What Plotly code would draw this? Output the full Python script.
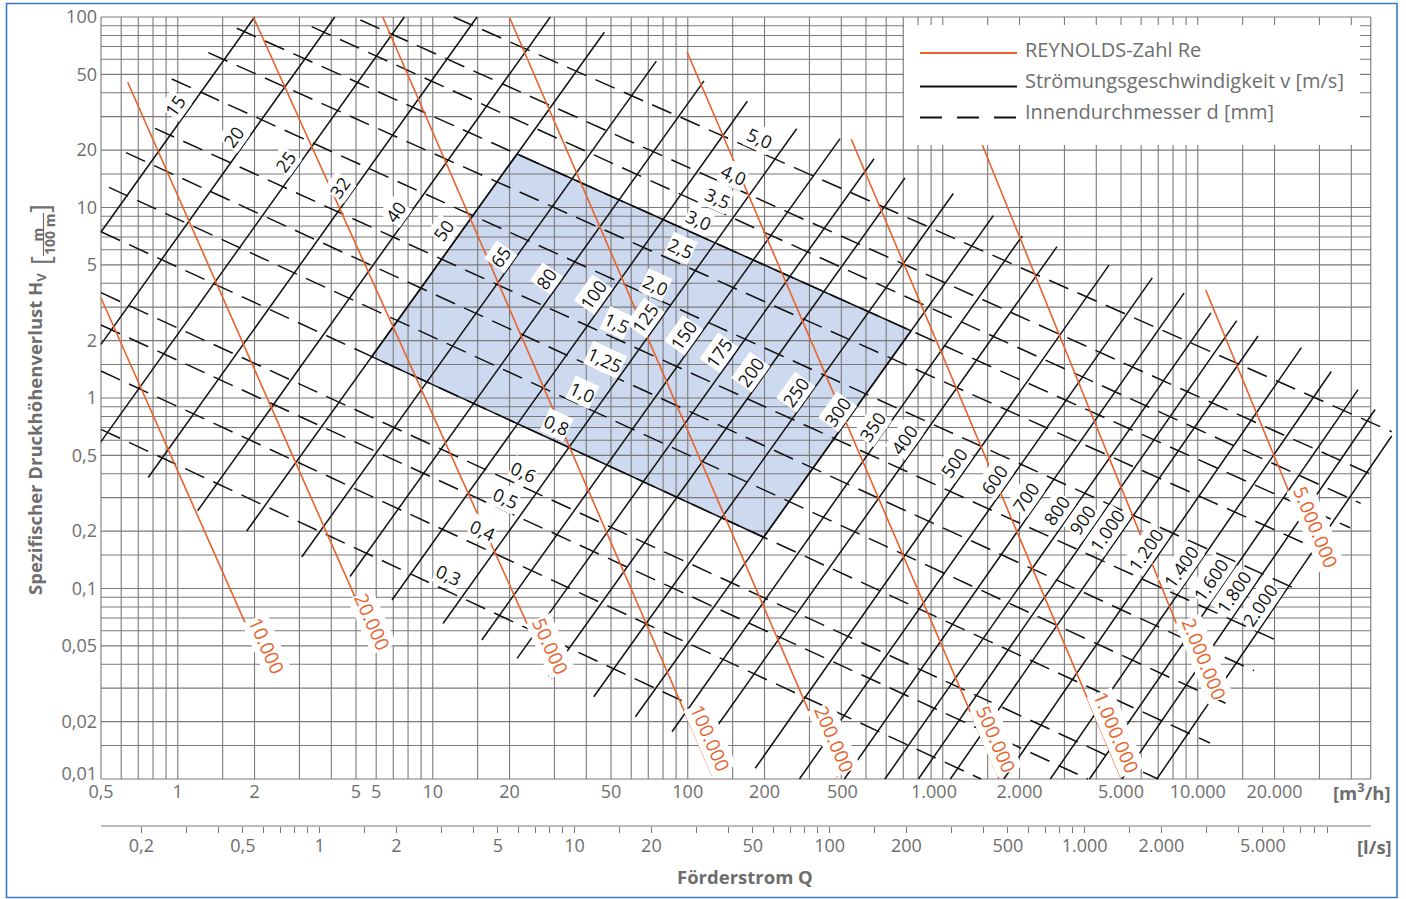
import numpy as np
import plotly.graph_objects as go

FONT = "Open Sans"
ORANGE = "#e8622c"
BLACK = "#111111"
GRID = "#7a7a7a"
TEXT = "#6e6e6e"
FILL = "#cdd9ee"
FRAME = "#3b79c3"

# ------------------------------------------------------------------ data
# Innendurchmesser d [mm]  (solid lines) - end points: Q [m3/h], Hv [m/100 m]
d_labels = ["15", "20", "25", "32", "40", "50", "65", "80", "100", "125", "150", "175", "200", "250",
            "300", "350", "400", "500", "600", "700", "800", "900", "1.000", "1.200", "1.400", "1.600",
            "1.800", "2.000"]
d_q_lo = [0.5, 0.5, 0.5, 0.766, 1.197, 1.864, 3.063, 4.737, 6.92, 10.97, 15.57, 21.42, 28.52, 42.80,
          62.33, 86.75, 115.5, 183.9, 274.1, 411.2, 593.1, 802.6, 1071, 1736, 2641, 3763, 5041, 6910]
d_h_lo = [7.44, 1.913, 0.590, 0.3825, 0.2561, 0.2003, 0.1463, 0.1156, 0.0870, 0.0655, 0.0537, 0.0430,
          0.03444, 0.02704, 0.02123, 0.01771, 0.01509, 0.01138, 0.01, 0.01, 0.01, 0.01, 0.01, 0.01,
          0.01, 0.01, 0.01, 0.01]
d_q_hi = [2.002, 4.13, 7.74, 14.91, 28.9, 47.07, 75.26, 115.8, 171.2, 267.4, 395.5, 537.6, 711.0, 1100,
          1579, 2050, 2805, 4486, 6632, 8835, 11270, 14215, 17230, 25480, 33390, 42500, 49570, 57630]
d_h_hi = [100, 100, 100, 100, 100, 83.14, 58.7, 46.2, 36.1, 25.9, 23.0, 18.04, 14.30, 11.84, 9.06, 7.10,
          6.23, 4.98, 4.27, 3.55, 2.80, 2.546, 2.116, 1.839, 1.378, 1.107, 0.870, 0.632]
d_label_q = [0.9754, 1.651, 2.634, 4.327, 7.13, 11.04, 18.40, 28.05, 42.50, 68.17, 96.4, 132.6, 176.5,
             265.0, 385.9, 529.3, 704.7, 1107, 1589, 2115, 2805, 3525, 4418, 6250, 8575, 11240, 13875,
             17545]
d_label_h = [34.1, 23.53, 17.40, 12.86, 9.51, 7.62, 5.52, 4.25, 3.473, 2.62, 2.141, 1.716, 1.374, 1.079,
             0.8474, 0.7068, 0.6018, 0.4542, 0.3712, 0.3033, 0.2583, 0.2289, 0.2028, 0.1592, 0.1302,
             0.1108, 0.0958, 0.0819]

# Stroemungsgeschwindigkeit v [m/s]  (dashed lines)
v_labels = ["0,3", "0,4", "0,5", "0,6", "0,8", "1,0", "1,25", "1,5", "2,0", "2,5", "3,0", "3,5", "4,0", "5,0"]
v_q_start = [0.5, 0.5, 0.5, 0.5, 0.5, 0.5374, 0.6266, 0.8144, 0.9469, 1.318, 1.703, 3.352, 5.198, 12.08]
v_h_start = [0.6849, 1.386, 2.416, 3.571, 7.464, 12.76, 19.40, 26.04, 47.27, 64.96, 87.26, 88.96, 96.45, 100]
v_q_end = [97.8, 1413, 3712, 6985, 11170, 13060, 16620, 20500, 24730, 28130, 39540, 43550, 46940, 57630]
v_h_end = [0.02527, 0.01, 0.01, 0.01, 0.01545, 0.02475, 0.03703, 0.05321, 0.0982, 0.1657, 0.2085, 0.2800,
           0.4024, 0.6653]
v_label_q = [11.55, 15.60, 19.25, 22.73, 30.70, 38.48, 47.49, 52.78, 74.6, 93.5, 110.4, 130.6, 151.8, 190.3]
v_label_h = [0.1177, 0.2028, 0.2975, 0.4103, 0.7216, 1.079, 1.583, 2.466, 3.920, 6.107, 8.60, 11.18,
             14.81, 23.09]

# REYNOLDS-Zahl Re (orange lines)
re_labels = ["10.000", "20.000", "50.000", "100.000", "200.000", "500.000", "1.000.000", "2.000.000",
             "5.000.000"]
re_q_start = [0.5, 0.6363, 1.978, 6.364, 19.96, 99.3, 437.8, 1429, 10745]
re_h_start = [3.35, 45.42, 100, 100, 100, 65.74, 22.80, 21.29, 3.689]
re_q_end = [2.265, 6.138, 29.35, 124.8, 385.9, 1662, 4986, 11070, 30700]
re_h_end = [0.03516, 0.04716, 0.03349, 0.01041, 0.01021, 0.01, 0.01021, 0.02475, 0.1225]
re_label_q = [2.233, 5.776, 28.91, 122.3, 374.5, 1613, 4766, 10580, 29010]
re_label_h = [0.05008, 0.06647, 0.05008, 0.01641, 0.01622, 0.01622, 0.01758, 0.04265, 0.2111]

# axis labels
x_tick_vals = [0.5, 1, 2, 5, 6, 10, 20, 50, 100, 200, 404, 924, 2000, 5000, 10000, 20000]
x_tick_text = ["0,5", "1", "2", "5", "5", "10", "20", "50", "100", "200", "500", "1.000", "2.000",
               "5.000", "10.000", "20.000"]
y_tick_vals = [0.0106, 0.02, 0.05, 0.1, 0.2, 0.5, 1, 2, 5, 10, 20, 50, 100]
y_tick_text = ["0,01", "0,02", "0,05", "0,1", "0,2", "0,5", "1", "2", "5", "10", "20", "50", "100"]
ls_tick_vals = [0.2, 0.5, 1, 2, 5, 10, 20, 50, 100, 200, 500, 1000, 2000, 5000]
ls_tick_text = ["0,2", "0,5", "1", "2", "5", "10", "20", "50", "100", "200", "500", "1.000", "2.000",
                "5.000"]
grid_mult = [1, 1.5, 2, 3, 4, 5, 6, 7, 8, 9]
Q_MIN, Q_FRAME, H_MIN, H_MAX = 0.5, 47700, 0.01, 100

# ------------------------------------------------------------------ geometry of the page
W, HGT = 1406, 899
PX_X, PX_Y = 255.0, 190.5          # pixels per decade
L_PX, R_PX, T_PX, B_PX, LS_PX = 99, 1398, 15, 781, 826
Q0_PX, H100_PX = 101, 17
xr = [np.log10(Q_MIN) - (Q0_PX - L_PX) / PX_X, np.log10(Q_MIN) + (R_PX - Q0_PX) / PX_X]
yr = [2 - (B_PX - H100_PX) / PX_Y, 2 + (H100_PX - T_PX) / PX_Y]


def px(xp):
    return (xp - L_PX) / (R_PX - L_PX)


def py(yp):
    return (LS_PX - yp) / (LS_PX - T_PX)


def seglog(q1, h1, q2, h2):
    return np.log10([q1, h1, q2, h2])


def intersect(a, b):
    x1, y1, x2, y2 = a
    x3, y3, x4, y4 = b
    den = (x1 - x2) * (y3 - y4) - (y1 - y2) * (x3 - x4)
    t = ((x1 - x3) * (y3 - y4) - (y1 - y3) * (x3 - x4)) / den
    return 10 ** (x1 + t * (x2 - x1)), 10 ** (y1 + t * (y2 - y1))


def angle(q1, h1, q2, h2):
    dx = (np.log10(q2) - np.log10(q1)) * PX_X
    dy = -(np.log10(h2) - np.log10(h1)) * PX_Y
    return float(np.degrees(np.arctan2(dy, dx)))


fig = go.Figure()

# shaded region (d 50..300, v 0,8..3,0)
dseg = lambda i: seglog(d_q_lo[i], d_h_lo[i], d_q_hi[i], d_h_hi[i])
vseg = lambda i: seglog(v_q_start[i], v_h_start[i], v_q_end[i], v_h_end[i])
i50, i300 = d_labels.index("50"), d_labels.index("300")
i08, i30 = v_labels.index("0,8"), v_labels.index("3,0")
corners = [intersect(dseg(i50), vseg(i08)), intersect(dseg(i50), vseg(i30)),
           intersect(dseg(i300), vseg(i30)), intersect(dseg(i300), vseg(i08))]
cq = [c[0] for c in corners] + [corners[0][0]]
ch = [c[1] for c in corners] + [corners[0][1]]
fig.add_trace(go.Scatter(x=cq, y=ch, mode="lines", fill="toself", fillcolor=FILL,
                         line=dict(width=0), hoverinfo="skip"))

# grid
gq = [m * 10 ** k for k in range(-1, 5) for m in grid_mult if Q_MIN <= m * 10 ** k <= 40000]
gh = [m * 10 ** k for k in range(-2, 3) for m in grid_mult if H_MIN <= m * 10 ** k <= H_MAX]
gx, gy = [], []
for q in gq + [Q_FRAME]:
    gx += [q, q, None]
    gy += [H_MIN, H_MAX, None]
for h in gh:
    gx += [Q_MIN, Q_FRAME, None]
    gy += [h, h, None]
fig.add_trace(go.Scatter(x=gx, y=gy, mode="lines", line=dict(color=GRID, width=1.1), hoverinfo="skip"))

# velocity lines (dashed)
for i in range(len(v_labels)):
    fig.add_trace(go.Scatter(x=[v_q_start[i], v_q_end[i]], y=[v_h_start[i], v_h_end[i]], mode="lines",
                             line=dict(color=BLACK, width=1.5, dash="21px,10px"), hoverinfo="skip"))
# diameter lines (solid)
for i in range(len(d_labels)):
    fig.add_trace(go.Scatter(x=[d_q_lo[i], d_q_hi[i]], y=[d_h_lo[i], d_h_hi[i]], mode="lines",
                             line=dict(color=BLACK, width=1.5), hoverinfo="skip"))
# outline of shaded region
fig.add_trace(go.Scatter(x=cq, y=ch, mode="lines", line=dict(color=BLACK, width=1.5), hoverinfo="skip"))
# Reynolds lines
for i in range(len(re_labels)):
    fig.add_trace(go.Scatter(x=[re_q_start[i], re_q_end[i]], y=[re_h_start[i], re_h_end[i]], mode="lines",
                             line=dict(color=ORANGE, width=1.6), hoverinfo="skip"))
# dummy trace for l/s axis
fig.add_trace(go.Scatter(x=[1], y=[1], xaxis="x2", yaxis="y", mode="markers",
                         marker=dict(opacity=0), hoverinfo="skip"))

C = dict(xanchor="center", yanchor="middle", showarrow=False)
lab_font = dict(family=FONT, size=18, color=BLACK)
ann = []
for i, t in enumerate(d_labels):
    ann.append(dict(x=np.log10(d_label_q[i]), y=np.log10(d_label_h[i]), xref="x", yref="y", text=t,
                    textangle=angle(d_q_lo[i], d_h_lo[i], d_q_hi[i], d_h_hi[i]),
                    font=lab_font, bgcolor="white", borderpad=0, **C))
for i, t in enumerate(v_labels):
    ann.append(dict(x=np.log10(v_label_q[i]), y=np.log10(v_label_h[i]), xref="x", yref="y", text=t,
                    textangle=angle(v_q_start[i], v_h_start[i], v_q_end[i], v_h_end[i]),
                    font=lab_font, bgcolor="white", borderpad=0, **C))
for i, t in enumerate(re_labels):
    ann.append(dict(x=np.log10(re_label_q[i]), y=np.log10(re_label_h[i]), xref="x", yref="y", text=t,
                    textangle=angle(re_q_start[i], re_h_start[i], re_q_end[i], re_h_end[i]),
                    font=dict(family=FONT, size=19, color=ORANGE), bgcolor="white", borderpad=0, **C))

# legend texts
leg_font = dict(family=FONT, size=20, color=TEXT)
for txt, yy in [("REYNOLDS-Zahl Re", 49), ("Strömungsgeschwindigkeit v [m/s]", 81),
                ("Innendurchmesser d [mm]", 112)]:
    ann.append(dict(x=px(1023), y=py(yy), xref="paper", yref="paper", text=txt, showarrow=False,
                    xanchor="left", yanchor="middle", font=leg_font))

bold = dict(family=FONT, size=18.5, color=TEXT)
ann += [
    dict(x=px(1362), y=py(791), xref="paper", yref="paper", text="<b>[m<sup>3</sup>/h]</b>", font=bold, **C),
    dict(x=px(1374), y=py(846), xref="paper", yref="paper", text="<b>[l/s]</b>", font=bold, **C),
    dict(x=px(745), y=py(876), xref="paper", yref="paper", text="<b>Förderstrom Q</b>", font=bold, **C),
    dict(x=px(36), y=py(434), xref="paper", yref="paper", textangle=-90,
         text="<b>Spezifischer Druckhöhenverlust H<sub>V</sub></b>",
         font=dict(family=FONT, size=18.5, color=TEXT), **C),
    dict(x=px(37.5), y=py(235), xref="paper", yref="paper", textangle=-90, text="<b>m</b>",
         font=dict(family=FONT, size=14, color=TEXT), **C),
    dict(x=px(50), y=py(235), xref="paper", yref="paper", textangle=-90, text="<b>100 m</b>",
         font=dict(family=FONT, size=14, color=TEXT), **C),
    dict(x=px(40), y=py(261), xref="paper", yref="paper", textangle=-90, text="[",
         font=dict(family=FONT, size=27, color=TEXT), **C),
    dict(x=px(40), y=py(209), xref="paper", yref="paper", textangle=-90, text="]",
         font=dict(family=FONT, size=27, color=TEXT), **C),
]

shapes = [
    # white legend box over the grid
    dict(type="rect", xref="paper", yref="paper", x0=px(904), x1=px(1360), y0=py(145), y1=py(25),
         fillcolor="white", line=dict(width=0), layer="above"),
    dict(type="line", xref="paper", yref="paper", x0=px(920), x1=px(1017), y0=py(53), y1=py(53),
         line=dict(color=ORANGE, width=2), layer="above"),
    dict(type="line", xref="paper", yref="paper", x0=px(920), x1=px(1017), y0=py(86.5), y1=py(86.5),
         line=dict(color=BLACK, width=2), layer="above"),
    dict(type="line", xref="paper", yref="paper", x0=px(920), x1=px(1017), y0=py(117.5), y1=py(117.5),
         line=dict(color=BLACK, width=2, dash="22px,15px"), layer="above"),
    # l/s axis line
    dict(type="line", xref="paper", yref="paper", x0=px(101), x1=px(1371), y0=0, y1=0,
         line=dict(color=GRID, width=1.2)),
    # fraction bar of the unit
    dict(type="line", xref="paper", yref="paper", x0=px(43.5), x1=px(43.5), y0=py(256), y1=py(213),
         line=dict(color=TEXT, width=1.2)),
    # outer frame
    dict(type="rect", xref="paper", yref="paper", x0=px(6.5), x1=px(1397), y0=py(897.5), y1=py(3.5),
         line=dict(color=FRAME, width=1.6), fillcolor="rgba(0,0,0,0)", layer="above"),
]

ls_minor = [m * 10 ** k for k in range(-1, 5) for m in grid_mult
            if 0.2 <= m * 10 ** k <= 10000 and m not in (1, 2, 5)]
tickfont = dict(family=FONT, size=18, color=TEXT)

fig.update_layout(
    width=W, height=HGT, margin=dict(l=L_PX, r=W - R_PX, t=T_PX, b=HGT - LS_PX, pad=0),
    paper_bgcolor="white", plot_bgcolor="white", showlegend=False,
    xaxis=dict(type="log", range=xr, tickvals=x_tick_vals, ticktext=x_tick_text, showgrid=False,
               zeroline=False, showline=False, ticks="", tickfont=tickfont, automargin=False,
               ticklabelstandoff=-2),
    yaxis=dict(type="log", range=yr, domain=[(LS_PX - B_PX) / (LS_PX - T_PX), 1], tickvals=y_tick_vals,
               ticktext=y_tick_text, showgrid=False, zeroline=False, showline=False, ticks="",
               tickfont=tickfont, automargin=False, ticklabelstandoff=1),
    xaxis2=dict(type="log", overlaying="x", anchor="free", position=0, side="bottom",
                range=[xr[0] - np.log10(3.6), xr[1] - np.log10(3.6)], tickvals=ls_tick_vals,
                ticktext=ls_tick_text, ticks="outside", ticklen=6, tickwidth=1, tickcolor=GRID,
                minor=dict(tickvals=ls_minor, ticks="outside", ticklen=6, tickwidth=1, tickcolor=GRID),
                showgrid=False, zeroline=False, showline=False, tickfont=tickfont, automargin=False,
                ticklabelstandoff=-3),
    annotations=ann, shapes=shapes,
)

fig.write_html("out.html", config={"displayModeBar": False},
               post_script="document.body.style.margin='0px';")
